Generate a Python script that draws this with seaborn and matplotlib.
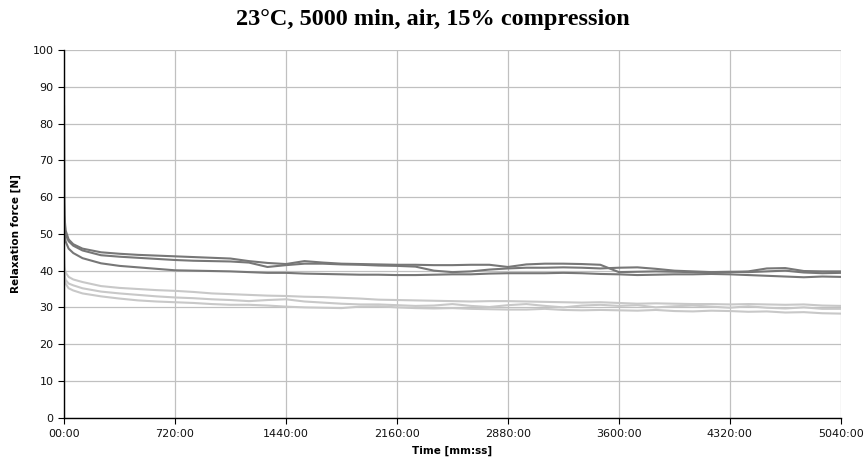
import matplotlib
matplotlib.use("Agg")
import pandas as pd
import matplotlib.pyplot as plt
import seaborn as sns
from matplotlib.ticker import FuncFormatter, MultipleLocator

# time in minutes
time_min = [0, 3, 10, 30, 60, 120, 240, 360, 480, 600, 720, 840, 960, 1080, 1200, 1320,
            1440, 1560, 1680, 1800, 1920, 2040, 2160, 2280, 2400, 2520, 2640, 2760, 2880,
            3000, 3120, 3240, 3360, 3480, 3600, 3720, 3840, 3960, 4080, 4200, 4320, 4440,
            4560, 4680, 4800, 4920, 5040]

dark_a = [85, 55, 51, 48.5, 47.2, 46, 45, 44.6, 44.3, 44.1, 43.9, 43.7, 43.5, 43.3, 42.6, 42.1,
          41.8, 42.6, 42.2, 41.9, 41.8, 41.7, 41.6, 41.6, 41.5, 41.5, 41.6, 41.6, 41.0,
          41.7, 41.9, 41.9, 41.8, 41.6, 39.6, 39.7, 39.8, 39.7, 39.6, 39.5, 39.6, 39.8,
          40.6, 40.7, 39.9, 39.8, 39.8]
dark_b = [60, 54, 50, 48, 46.8, 45.5, 44.2, 43.8, 43.5, 43.2, 42.9, 42.7, 42.6, 42.5, 42.2, 41.0,
          41.5, 41.9, 41.9, 41.7, 41.6, 41.4, 41.3, 41.1, 40.0, 39.6, 39.8, 40.3, 40.6,
          40.8, 40.8, 40.9, 40.8, 40.6, 40.8, 40.9, 40.5, 40.0, 39.8, 39.6, 39.7, 39.6,
          39.8, 40.0, 39.5, 39.3, 39.4]
dark_c = [58, 52, 48, 46, 44.8, 43.4, 42.0, 41.3, 40.9, 40.5, 40.1, 40.0, 39.9, 39.8, 39.6, 39.4,
          39.4, 39.2, 39.1, 39.0, 38.9, 38.9, 38.8, 38.8, 38.9, 39.0, 39.0, 39.2, 39.3,
          39.3, 39.3, 39.4, 39.3, 39.1, 39.0, 38.8, 38.9, 39.0, 39.0, 39.1, 39.0, 38.8,
          38.6, 38.4, 38.2, 38.4, 38.3]
light_d = [45, 41, 39.5, 38.3, 37.6, 36.9, 35.8, 35.3, 35.0, 34.7, 34.5, 34.2, 33.8, 33.6, 33.4, 33.2,
           33.1, 32.9, 32.8, 32.6, 32.4, 32.1, 32.0, 31.9, 31.8, 31.7, 31.6, 31.7, 31.7,
           31.6, 31.5, 31.4, 31.3, 31.4, 31.2, 31.0, 31.1, 31.0, 30.9, 30.9, 30.8, 30.9,
           30.8, 30.7, 30.8, 30.5, 30.4]
light_e = [43, 39, 37.5, 36.5, 36.0, 35.2, 34.3, 33.8, 33.4, 33.0, 32.7, 32.5, 32.2, 32.0, 31.7, 32.0,
           32.2, 31.6, 31.3, 31.0, 30.8, 30.8, 30.6, 30.4, 30.5, 30.9, 30.4, 30.1, 30.6,
           30.9, 30.4, 30.0, 30.5, 30.7, 30.4, 30.6, 30.0, 30.3, 30.5, 30.2, 29.9, 30.3,
           29.9, 29.7, 30.0, 29.6, 29.6]
light_f = [41, 38, 36.5, 35.2, 34.6, 33.8, 33.0, 32.4, 31.9, 31.6, 31.4, 31.2, 30.9, 30.7, 30.7, 30.5,
           30.2, 30.0, 29.9, 29.8, 30.2, 30.3, 30.0, 29.8, 29.7, 29.8, 29.6, 29.5, 29.4,
           29.4, 29.6, 29.3, 29.2, 29.3, 29.2, 29.1, 29.3, 29.0, 28.9, 29.1, 29.0, 28.8,
           28.9, 28.6, 28.7, 28.4, 28.3]

series = {"d": light_d, "e": light_e, "f": light_f,
          "a": dark_a, "b": dark_b, "c": dark_c}
colors = {"a": "#777777", "b": "#777777", "c": "#777777",
          "d": "#c8c8c8", "e": "#c8c8c8", "f": "#c8c8c8"}

df = pd.concat([pd.DataFrame({"t": time_min, "force": v, "sample": k})
                for k, v in series.items()])

sns.set_style("white")
plt.rcParams["font.family"] = ["DejaVu Sans"]
plt.rcParams["text.color"] = "black"
plt.rcParams["axes.labelcolor"] = "black"

fig = plt.figure(figsize=(8.65, 4.66), dpi=100)
ax = fig.add_axes([0.074, 0.104, 0.898, 0.788])

sns.lineplot(data=df, x="t", y="force", hue="sample", palette=colors,
             estimator=None, sort=False, linewidth=1.5, legend=False, ax=ax)

ax.set_xlim(0, 5040)
ax.set_ylim(0, 100)
ax.xaxis.set_major_locator(MultipleLocator(720))
ax.yaxis.set_major_locator(MultipleLocator(10))
ax.xaxis.set_major_formatter(FuncFormatter(lambda v, p: f"{int(v):02d}:00"))
ax.grid(True, color="#c0c0c0", linewidth=0.9)
ax.set_axisbelow(True)
for s in ["top", "right"]:
    ax.spines[s].set_visible(False)
for s in ["left", "bottom"]:
    ax.spines[s].set_color("black")
    ax.spines[s].set_linewidth(1.0)
ax.tick_params(axis="both", direction="out", length=4, width=0.8, color="black",
               labelsize=8, labelcolor="#111111", left=True, bottom=True)
ax.tick_params(axis="x", pad=4)

ax.set_xlabel("Time [mm:ss]", fontsize=7.5, fontweight="bold", labelpad=5)
ax.set_ylabel("Relaxation force [N]", fontsize=7.5, fontweight="bold", labelpad=8)
fig.suptitle("23°C, 5000 min, air, 15% compression", x=0.50, y=0.98,
             fontsize=17.5, fontweight="bold", family="Liberation Serif", color="black")

fig.savefig("out.png", dpi=100)
